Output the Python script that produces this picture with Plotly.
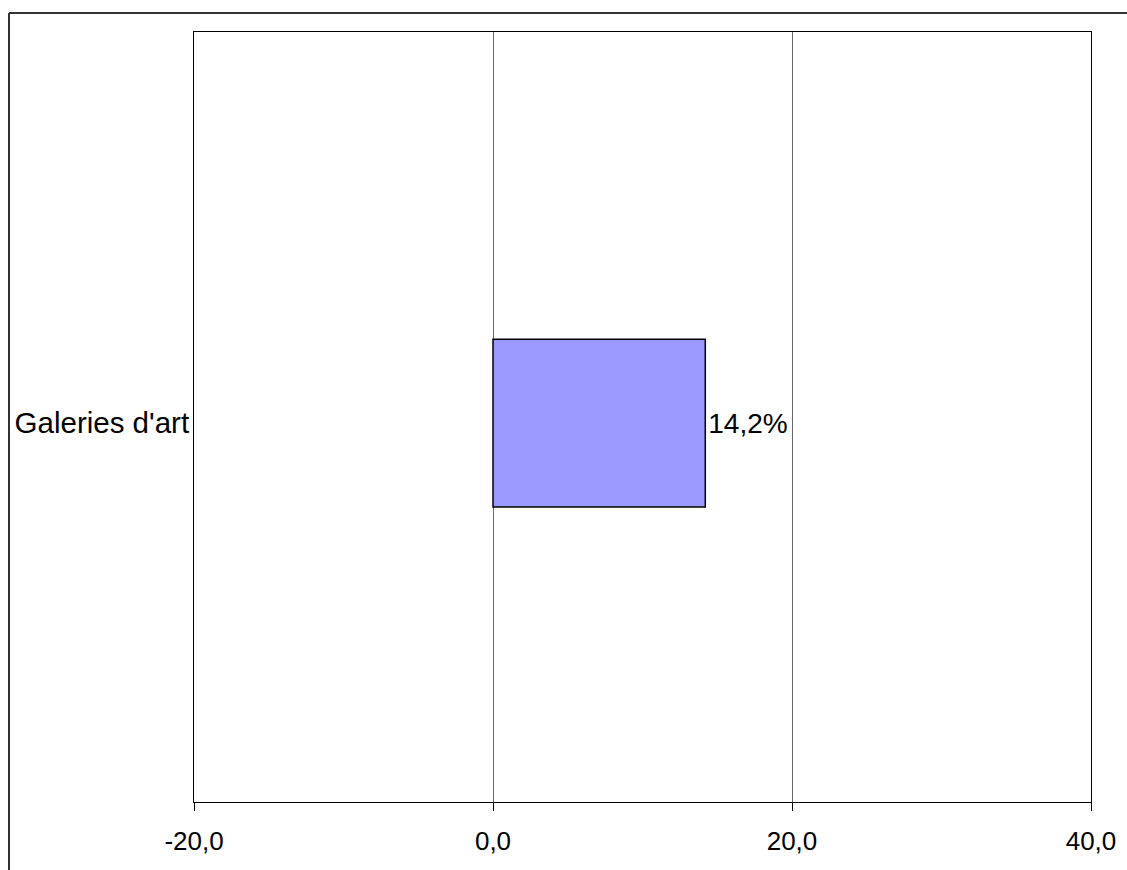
import plotly.graph_objects as go

categories = ["Galeries d'art"]
values = [14.2]
x_ticks = [-20, 0, 20, 40]
x_tick_labels = ["-20,0", "0,0", "20,0", "40,0"]

FONT = "Liberation Sans, Arial, Helvetica, sans-serif"

W, H = 1127, 870
L, R, T, B = 194, 1091, 32, 802

fig = go.Figure()
fig.add_trace(go.Bar(
    y=categories, x=values, orientation="h",
    width=0.218,
    marker=dict(color="#9999FF", line=dict(color="#000000", width=1.5)),
    text=[f"{v:.1f}".replace(".", ",") + "%" for v in values],
    textposition="outside",
    textfont=dict(family=FONT, size=28, color="#000000"),
    cliponaxis=False,
))

pw, ph = R - L, B - T
bx, by = 9, 13
fig.update_layout(
    width=W, height=H,
    margin=dict(l=L, r=W - R, t=T, b=H - B, pad=0),
    paper_bgcolor="white", plot_bgcolor="white",
    separators=", ",
    showlegend=False,
    font=dict(family=FONT, size=26, color="#000000"),
    xaxis=dict(
        range=[-20, 40], tickvals=x_ticks, ticktext=x_tick_labels,
        showgrid=True, gridcolor="#6a6a6a", gridwidth=1,
        zeroline=True, zerolinecolor="#6a6a6a", zerolinewidth=1,
        showline=True, linecolor="#000000", linewidth=1, mirror=True,
        ticks="outside", ticklen=8, tickcolor="#000000", tickwidth=1,
        ticklabelstandoff=8,
        tickfont=dict(family=FONT, size=26, color="#000000"),
        fixedrange=True,
    ),
    yaxis=dict(
        range=[-0.492, 0.508],
        showgrid=False, zeroline=False,
        showline=True, linecolor="#000000", linewidth=1, mirror=True,
        ticks="", ticklabelstandoff=-2,
        tickfont=dict(family=FONT, size=29.5, color="#000000"),
        fixedrange=True,
    ),
    shapes=[
        dict(type="line", xref="paper", yref="paper",
             x0=(bx - L) / pw, x1=(W + 20 - L) / pw,
             y0=1 + (T - by) / ph, y1=1 + (T - by) / ph,
             line=dict(color="#333333", width=2)),
        dict(type="line", xref="paper", yref="paper",
             x0=(bx - L) / pw, x1=(bx - L) / pw,
             y0=1 + (T - by) / ph, y1=-(H + 20 - B) / ph,
             line=dict(color="#333333", width=2)),
    ],
)

fig.write_html(
    "out.html",
    config={"displayModeBar": False},
    post_script="document.body.style.margin='0';document.body.style.overflow='hidden';",
)
